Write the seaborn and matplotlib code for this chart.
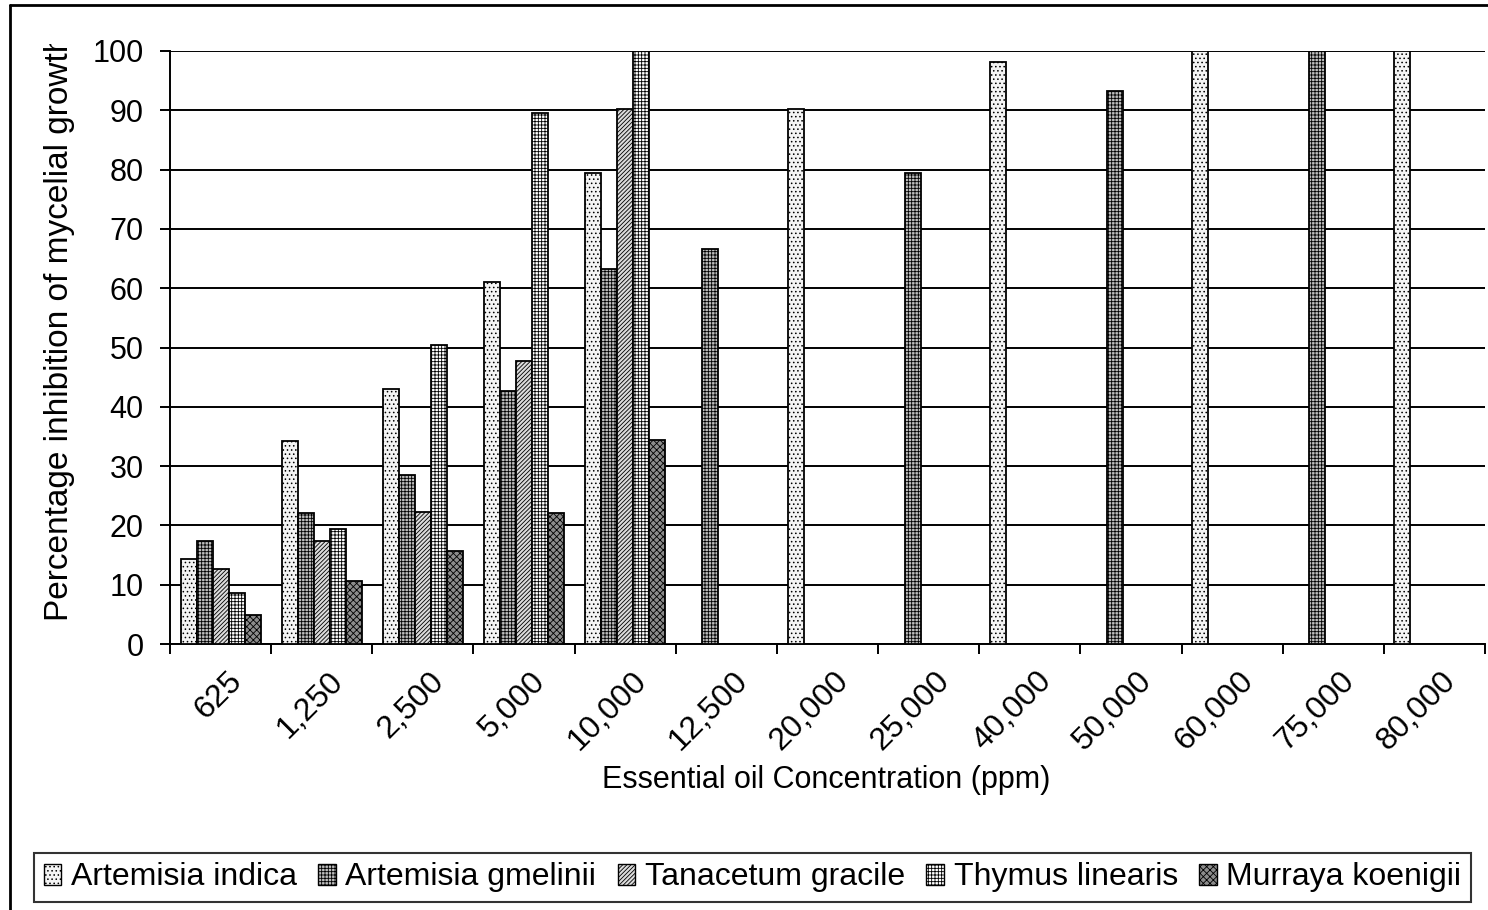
import numpy as np
import pandas as pd
import matplotlib
matplotlib.use("Agg")
import matplotlib.pyplot as plt
import seaborn as sns
from matplotlib.patches import Patch
from matplotlib.lines import Line2D
from matplotlib.transforms import Bbox, TransformedBbox, ScaledTranslation

nan = np.nan
concentrations = ['625', '1,250', '2,500', '5,000', '10,000', '12,500', '20,000',
                  '25,000', '40,000', '50,000', '60,000', '75,000', '80,000']
species = ['Artemisia indica', 'Artemisia gmelinii', 'Tanacetum gracile',
           'Thymus linearis', 'Murraya koenigii']

artemisia_indica = [14.3, 34.2, 43.0, 61.1, 79.5, nan, 90.3, nan, 98.2, nan, 100, nan, 100]
artemisia_gmelinii = [17.4, 22.1, 28.5, 42.7, 63.3, 66.6, nan, 79.5, nan, 93.2, nan, 100, nan]
tanacetum_gracile = [12.6, 17.3, 22.3, 47.7, 90.2, nan, nan, nan, nan, nan, nan, nan, nan]
thymus_linearis = [8.6, 19.4, 50.4, 89.5, 100, nan, nan, nan, nan, nan, nan, nan, nan]
murraya_koenigii = [4.9, 10.6, 15.7, 22.1, 34.4, nan, nan, nan, nan, nan, nan, nan, nan]

series = [artemisia_indica, artemisia_gmelinii, tanacetum_gracile,
          thymus_linearis, murraya_koenigii]
rows = []
for sp, vals in zip(species, series):
    for c, v in zip(concentrations, vals):
        rows.append({'conc': c, 'species': sp, 'value': v})
df = pd.DataFrame(rows).dropna()

# fill / hatch styles for the black and white look
faces = ['#f4f4f4', '#bdbdbd', '#dcdcdc', '#ffffff', '#8c8c8c']
hatches = ['....', '+++++', '////////', '+++++', 'xxxxx']
hcolors = ['#b8b8b8', '#000000', '#000000', '#000000', '#000000']

sns.set_theme(style='white')
plt.rcParams['font.family'] = ['Liberation Sans', 'DejaVu Sans']
plt.rcParams['hatch.linewidth'] = 0.6

fig = plt.figure(figsize=(14.88, 9.10), dpi=100)
ax = fig.add_axes([170 / 1488, 1 - 644 / 910, (1485 - 170) / 1488, (644 - 51) / 910])

sns.barplot(data=df, x='conc', y='value', hue='species', order=concentrations,
            hue_order=species, palette=faces, width=0.79, gap=0, errorbar=None,
            edgecolor='black', linewidth=1.3, legend=False, ax=ax, zorder=3)

for i, cont in enumerate(ax.containers):
    for bar in cont:
        bar.set_facecolor(faces[i])
        bar.set_hatch(hatches[i])
        if hasattr(bar, 'set_hatchcolor'):
            bar.set_hatchcolor(hcolors[i])
        bar.set_edgecolor('black')

ax.set_xlim(-0.5, len(concentrations) - 0.5)
ax.set_ylim(0, 100)
ax.set_yticks(range(0, 101, 10))
ax.grid(axis='y', color='black', linewidth=1.4)
ax.set_axisbelow(True)
for s in ['top', 'right']:
    ax.spines[s].set_visible(False)
for s in ['left', 'bottom']:
    ax.spines[s].set_color('black')
    ax.spines[s].set_linewidth(1.4)

ax.tick_params(axis='y', left=True, length=7, width=1.4, color='black',
               pad=12, labelsize=22, labelcolor='black')
ax.set_xticks(np.arange(len(concentrations)))
ax.set_xticks(np.arange(len(concentrations) + 1) - 0.5, minor=True)
ax.tick_params(axis='x', which='minor', bottom=True, length=7, width=1.4, color='black')
ax.tick_params(axis='x', which='major', bottom=True, length=0, pad=16,
               labelsize=23, labelcolor='black')
ax.set_xticklabels(concentrations, rotation=45, ha='right', va='top',
                   rotation_mode='anchor')
offset = ScaledTranslation(6 / 100, 0, fig.dpi_scale_trans)
for lab in ax.get_xticklabels():
    lab.set_transform(lab.get_transform() + offset)

ax.set_xlabel('')
ax.set_ylabel('')
fig.text(826 / 1488, 1 - 780 / 910, 'Essential oil Concentration (ppm)',
         ha='center', va='center', fontsize=22, color='black')

ylab = fig.text(60 / 1488, 1 - 621 / 910, 'Percentage inhibition of mycelial growth',
                rotation=90, ha='center', va='bottom', fontsize=24, color='black')
ylab.set_clip_box(TransformedBbox(Bbox([[0, 0], [1, 1 - 44 / 910]]), fig.transFigure))
ylab.set_clip_on(True)

handles = []
for i, sp in enumerate(species):
    p = Patch(facecolor=faces[i], edgecolor='black', hatch=hatches[i], linewidth=1)
    if hasattr(p, 'set_hatchcolor'):
        p.set_hatchcolor(hcolors[i])
    handles.append(p)
leg = fig.legend(handles, species, loc='lower left', mode='expand',
                 bbox_to_anchor=(34 / 1488, 1 - 902 / 910, (1471 - 34) / 1488, 52 / 910),
                 ncol=5, fontsize=23, frameon=True, fancybox=False, edgecolor='black',
                 handlelength=0.55, handleheight=0.65, handletextpad=0.3,
                 columnspacing=0.5, borderpad=0.3, borderaxespad=0)
leg.get_frame().set_linewidth(1.5)
for t in leg.get_texts():
    t.set_color('black')

# outer chart border (left and top visible)
fig.add_artist(Line2D([10 / 1488, 10 / 1488], [0, 1 - 5 / 910], color='black', linewidth=2,
                      transform=fig.transFigure))
fig.add_artist(Line2D([10 / 1488, 1], [1 - 5 / 910, 1 - 5 / 910], color='black', linewidth=2,
                      transform=fig.transFigure))

fig.savefig('out.png', dpi=100)
